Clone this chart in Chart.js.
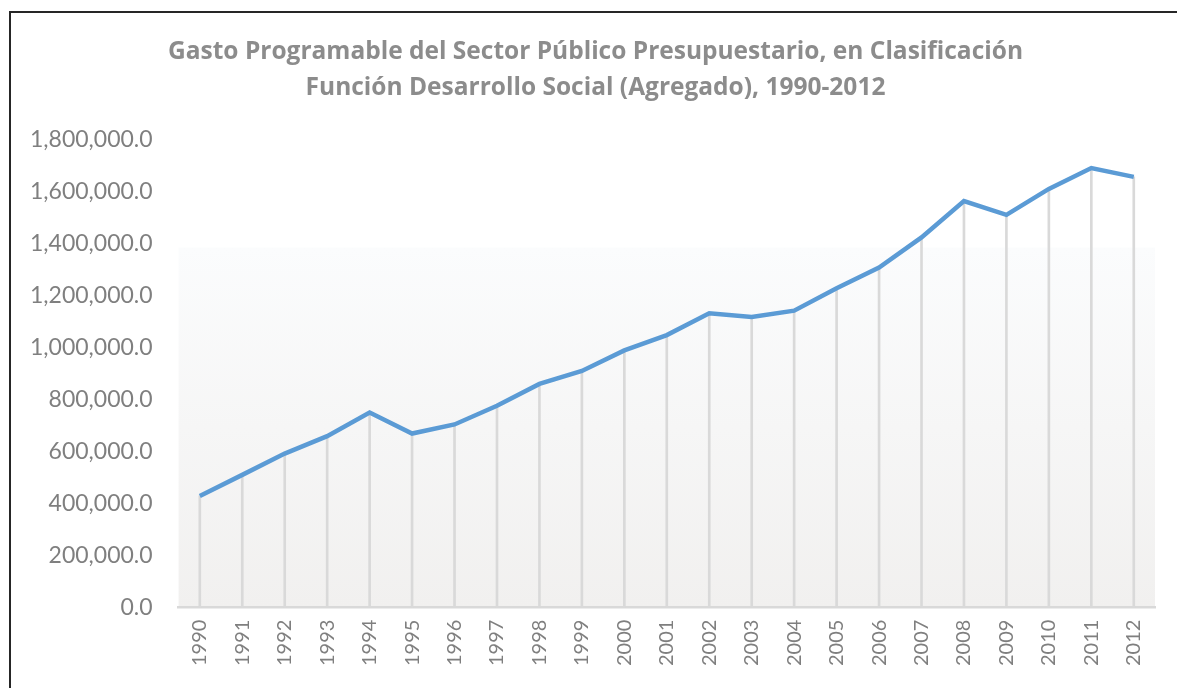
<!DOCTYPE html>
<html>
<head>
<meta charset="utf-8">
<script src="https://cdn.jsdelivr.net/npm/chart.js@4"></script>
<style>
  html, body { margin: 0; padding: 0; background: #fff; }
  #grafico { position: absolute; left: 0; top: 0; display: block; }
  #marco {
    position: absolute; left: 9px; top: 11px; width: 1168px; height: 677px;
    border-left: 2px solid #262626; border-top: 2px solid #262626;
    pointer-events: none;
  }
</style>
</head>
<body>
<canvas id="grafico" width="1177" height="688"></canvas>
<div id="marco"></div>
<script>
// Gasto programable, función desarrollo social (agregado)
const anios = ['1990', '1991', '1992', '1993', '1994', '1995', '1996', '1997', '1998', '1999', '2000',
  '2001', '2002', '2003', '2004', '2005', '2006', '2007', '2008', '2009', '2010', '2011', '2012'];
const gasto = [430000, 511000, 593000, 660000, 751000, 670000, 705000, 777000, 861000, 911000, 990000,
  1049000, 1133000, 1119000, 1143000, 1229000, 1309000, 1425000, 1565000, 1512000, 1612000, 1692000, 1658000];
const titulo = ['Gasto Programable del Sector Público Presupuestario, en Clasificación',
  'Función Desarrollo Social (Agregado), 1990-2012'];

const gris = '#7f7f7f';

// fondo degradado del área de trazado + título un poco a la derecha
const fondoPlugin = {
  id: 'fondo',
  afterLayout(chart) {
    const t = chart.titleBlock;
    if (t) { t.left += 16; t.right += 16; }
  },
  beforeDraw(chart) {
    const { ctx, chartArea: a } = chart;
    const ini = a.top + (a.bottom - a.top) * 0.23;
    const g = ctx.createLinearGradient(0, ini, 0, a.bottom);
    g.addColorStop(0, '#fbfcfd');
    g.addColorStop(0.5, '#f6f6f6');
    g.addColorStop(1, '#f1f0ef');
    ctx.save();
    ctx.fillStyle = g;
    ctx.fillRect(a.left, ini, a.right - a.left, a.bottom - ini);
    ctx.restore();
  }
};

const ctx = document.getElementById('grafico').getContext('2d');
new Chart(ctx, {
  data: {
    labels: anios,
    datasets: [{
      type: 'line',
      data: gasto,
      borderColor: '#5b9bd5',
      borderWidth: 4.5,
      pointRadius: 0,
      tension: 0,
      order: 0
    }, {
      // líneas de unión hasta el eje
      type: 'bar',
      data: gasto,
      backgroundColor: '#d9d9d9',
      barThickness: 2,
      order: 1
    }]
  },
  options: {
    responsive: false,
    animation: false,
    layout: { padding: { left: 4, right: 22, top: 0, bottom: 10 } },
    plugins: {
      legend: { display: false },
      tooltip: { enabled: false },
      title: {
        display: true,
        text: titulo,
        color: '#8c8c8c',
        font: { family: 'Open Sans', size: 24.5, weight: 'bold', lineHeight: 1.47 },
        padding: { top: 34, bottom: 34 }
      }
    },
    scales: {
      x: {
        offset: true,
        grid: { display: false, drawTicks: false },
        border: { color: '#d9d9d9', width: 2.5 },
        ticks: {
          color: gris, maxRotation: 90, minRotation: 90, padding: 12,
          font: { family: 'Lato', size: 20 }
        }
      },
      y: {
        min: 0, max: 1800000,
        grid: { display: false, drawTicks: false },
        border: { display: false },
        ticks: {
          stepSize: 200000, color: gris, padding: 26,
          font: { family: 'Lato', size: 23 },
          callback: v => v.toLocaleString('en-US', { minimumFractionDigits: 1, maximumFractionDigits: 1 })
        }
      }
    }
  },
  plugins: [fondoPlugin]
});
</script>
</body>
</html>
